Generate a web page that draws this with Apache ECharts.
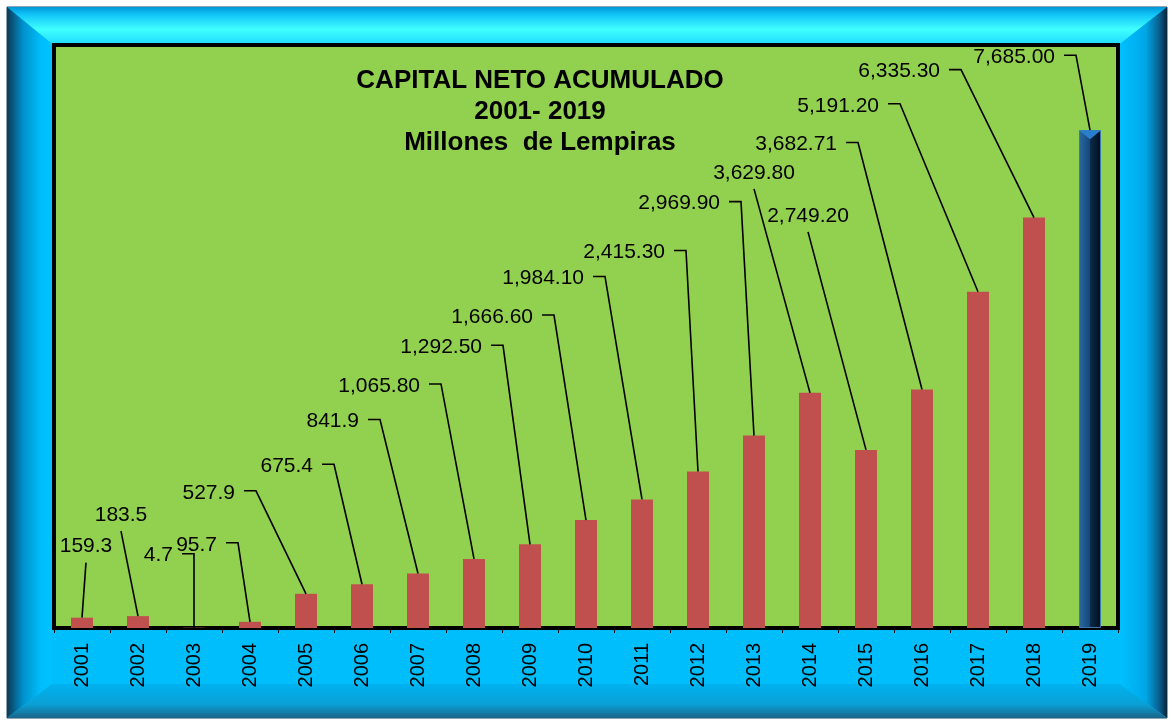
<!DOCTYPE html>
<html>
<head>
<meta charset="utf-8">
<title>Capital neto acumulado</title>
<script src="https://cdn.jsdelivr.net/npm/echarts@6/dist/echarts.min.js"></script>
<style>
  html, body { margin: 0; padding: 0; background: #fff; }
  #chart { width: 1172px; height: 723px; }
</style>
</head>
<body>
<div id="chart"></div>
<script>
// datos
const years = ['2001', '2002', '2003', '2004', '2005', '2006', '2007', '2008', '2009', '2010',
  '2011', '2012', '2013', '2014', '2015', '2016', '2017', '2018', '2019']
const capital = [159.3, 183.5, 4.7, 95.7, 527.9, 675.4, 841.9, 1065.8, 1292.5, 1666.6,
  1984.1, 2415.3, 2969.9, 3629.8, 2749.2, 3682.71, 5191.2, 6335.3, 7685.0]
const valueLabels = ['159.3', '183.5', '4.7', '95.7', '527.9', '675.4', '841.9', '1,065.80', '1,292.50', '1,666.60',
  '1,984.10', '2,415.30', '2,969.90', '3,629.80', '2,749.20', '3,682.71', '5,191.20', '6,335.30', '7,685.00']

// donde empieza cada linea guia, relativo a la punta de la barra (px)
const labelSpots = [
  [4, -55, 'under'], [-17, -85, 'under'], [-12, -74, 'hook'], [-24, -79, 'hook'],
  [-62, -103, 'hook'], [-40, -120, 'hook'], [-50, -154, 'hook'], [-45, -175, 'hook'],
  [-39, -199, 'hook'], [-44, -205, 'hook'], [-49, -223, 'hook'], [-24, -221, 'hook'],
  [-25, -234, 'hook'], [-56, -204, 'under'], [-58, -218, 'under'], [-76, -247, 'hook'],
  [-90, -188, 'hook'], [-85, -148, 'hook'], [-26, -75, 'hook']
]

const FONT = '"Liberation Sans", Arial, sans-serif'
const BAR_W = 22
const chart = echarts.init(document.getElementById('chart'))
const last = capital.length - 1

const renderLabel = (params, api) => {
  const i = params.dataIndex
  const top = api.coord([api.value(0), api.value(1)])
  const [dx, dy, kind] = labelSpots[i]
  const sx = top[0] + dx
  const sy = top[1] + dy
  let points, tx, ty, align
  if (kind === 'hook') {
    points = [[sx, sy], [sx + 12, sy], top]
    tx = sx - 9
    ty = sy + 2
    align = 'right'
  } else {
    points = [[sx, sy], top]
    tx = sx
    ty = sy - 16
    align = 'center'
  }
  const children = [
    {type: 'polyline', shape: {points}, style: {stroke: '#000', lineWidth: 1.6, fill: null}},
    {
      type: 'text', x: tx, y: ty,
      style: {text: valueLabels[i], fill: '#000', font: '21px ' + FONT, align, verticalAlign: 'middle'}
    }
  ]
  // tapa piramidal de la barra azul
  if (i === last) {
    const h = BAR_W / 2
    children.unshift({
      type: 'polygon',
      shape: {points: [[top[0] - h, top[1]], [top[0] + h, top[1]], [top[0], top[1] + 9]]},
      style: {fill: '#2a7fcc'}
    })
  }
  return {type: 'group', children}
}

const barData = capital.map((v, i) => i === last ? {
  value: v,
  itemStyle: {
    color: new echarts.graphic.LinearGradient(0, 0, 1, 0, [
      {offset: 0, color: '#2a6aa4'},
      {offset: 0.5, color: '#154777'},
      {offset: 0.5, color: '#0b2b4b'},
      {offset: 1, color: '#030d1a'}
    ]),
    borderColor: '#3b78ad',
    borderWidth: 1
  }
} : v)

// marco biselado
const frame = [
  {
    type: 'rect', shape: {x: 7, y: 7, width: 1160, height: 711},
    style: {fill: '#00bdfb', stroke: '#1d4a68', lineWidth: 1}, z: -10
  },
  {
    type: 'polygon', shape: {points: [[7, 7], [1167, 7], [1120, 44], [52, 44]]},
    style: {
      fill: new echarts.graphic.LinearGradient(0, 0, 0, 1, [
        {offset: 0, color: '#0096d6'},
        {offset: 0.2, color: '#10c4f8'},
        {offset: 0.6, color: '#40ffff'},
        {offset: 1, color: '#22dcff'}
      ])
    }, z: -9
  },
  {
    type: 'polygon', shape: {points: [[7, 7], [52, 44], [52, 684], [7, 718]]},
    style: {
      fill: new echarts.graphic.LinearGradient(0, 0, 1, 0, [
        {offset: 0, color: '#0d3854'},
        {offset: 0.35, color: '#0090cc'},
        {offset: 0.75, color: '#00bdfb'},
        {offset: 1, color: '#00c2ff'}
      ])
    }, z: -9
  },
  {
    type: 'polygon', shape: {points: [[1167, 7], [1167, 718], [1120, 684], [1120, 44]]},
    style: {
      fill: new echarts.graphic.LinearGradient(0, 0, 1, 0, [
        {offset: 0, color: '#00c0ff'},
        {offset: 0.55, color: '#00a6e6'},
        {offset: 0.85, color: '#0a5a88'},
        {offset: 1, color: '#0a2438'}
      ])
    }, z: -9
  },
  {
    type: 'polygon', shape: {points: [[7, 718], [52, 684], [1120, 684], [1167, 718]]},
    style: {
      fill: new echarts.graphic.LinearGradient(0, 0, 0, 1, [
        {offset: 0, color: '#00b2ef'},
        {offset: 0.6, color: '#0aa0d6'},
        {offset: 1, color: '#1a6488'}
      ])
    }, z: -9
  }
]

chart.setOption({
  backgroundColor: '#fff',
  animation: false,
  graphic: frame,
  title: {
    text: 'CAPITAL NETO ACUMULADO\n2001- 2019\nMillones  de Lempiras',
    left: 540,
    top: 65,
    padding: 0,
    textAlign: 'center',
    textStyle: {fontFamily: FONT, fontSize: 26, fontWeight: 'bold', color: '#000', lineHeight: 31}
  },
  grid: {
    left: 54, right: 54, top: 45, bottom: 95,
    show: true,
    backgroundColor: '#92d050',
    borderColor: '#000',
    borderWidth: 4
  },
  xAxis: {
    type: 'category',
    data: years,
    axisLine: {lineStyle: {color: '#000', width: 3}},
    axisTick: {show: true, length: 5, lineStyle: {color: '#000', width: 1}},
    axisLabel: {rotate: 90, margin: 15, color: '#000', fontFamily: FONT, fontSize: 20}
  },
  yAxis: {
    type: 'value',
    min: 0,
    max: 9000,
    show: false,
    splitLine: {show: false}
  },
  series: [
    {
      type: 'bar',
      data: barData,
      barWidth: BAR_W,
      itemStyle: {color: '#c0504d'}
    },
    {
      type: 'custom',
      data: capital.map((v, i) => [i, v]),
      encode: {x: 0, y: 1},
      renderItem: renderLabel,
      clip: false,
      z: 5
    }
  ]
})
</script>
</body>
</html>
